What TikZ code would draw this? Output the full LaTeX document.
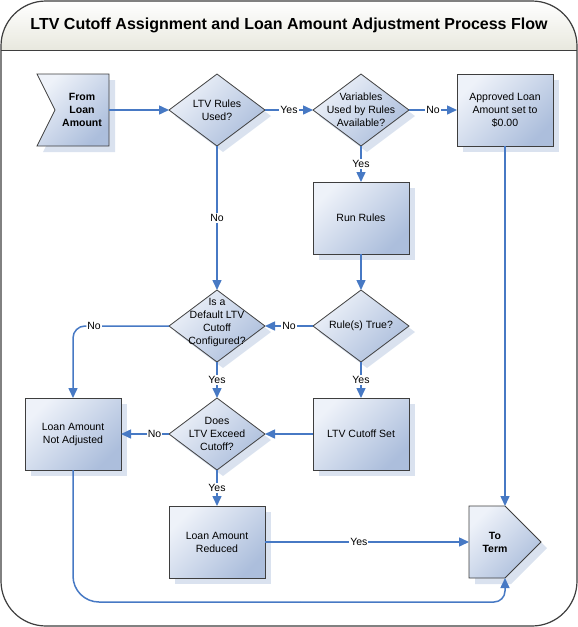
\documentclass[tikz,border=0pt]{standalone}
\usepackage{fontspec}
\setmainfont{Liberation Sans}
\usetikzlibrary{shapes.geometric,arrows.meta,shadows,calc}
\definecolor{connc}{RGB}{71,121,196}
\definecolor{flight}{RGB}{238,242,249}
\definecolor{fdark}{RGB}{172,190,220}
\definecolor{shad}{RGB}{218,226,239}
\definecolor{edgec}{RGB}{62,62,62}
\definecolor{titlebot}{RGB}{232,232,222}
\newcommand\nfont{\fontsize{10.5}{13}\selectfont}
\tikzset{
  shp/.style={draw=edgec, line width=0.8pt, top color=flight, bottom color=fdark, shading angle=45,
    general shadow={fill=shad, shadow xshift=6pt, shadow yshift=-6pt}},
  proc/.style={shp, rectangle, minimum width=96pt, minimum height=72pt, inner sep=2pt, outer sep=0pt, align=center, font=\nfont},
  dec/.style={shp, diamond, minimum width=96pt, minimum height=72pt, inner sep=0pt, outer sep=0pt},
  dtext/.style={align=center, font=\nfont, inner sep=0pt},
  btext/.style={align=center, font=\bfseries\nfont, inner sep=0pt},
  ghost/.style={draw=none, fill=none, minimum width=72pt, minimum height=72pt, inner sep=0pt, outer sep=0pt},
  connline/.style={draw=connc, line width=1.5pt},
  conn/.style={connline, -{Triangle[length=10pt,width=9pt]}},
  lbl/.style={fill=white, inner sep=1pt, font=\nfont, text=black},
}
\begin{document}
\begin{tikzpicture}[x=1pt,y=-1pt]
\useasboundingbox (0,0) rectangle (578,627);
% frame and title bar
\begin{scope}
  \clip[rounded corners=45pt] (1,1) rectangle (577,626);
  \fill[top color=white, bottom color=titlebot] (1,1) rectangle (577,50);
\end{scope}
\draw[edgec, line width=1.2pt, rounded corners=45pt] (1,1) rectangle (577,626);
\draw[edgec, line width=1pt] (1,50) -- (577,50);
\node[font=\bfseries\fontsize{16}{19}\selectfont, inner sep=0pt] (title) at (289,25) {LTV Cutoff Assignment and Loan Amount Adjustment Process Flow};

% off-page connectors (drawn shapes)
\path[shp] (37,74) -- (109,74) -- (109,146) -- (37,146) -- (55,110) -- cycle;
\node[ghost, label={[btext, xshift=9pt]center:{From\\Loan\\Amount}}] (from) at (73,110) {};
\path[shp] (469,506) -- (505,506) -- (541,542) -- (505,578) -- (469,578) -- cycle;
\node[ghost, label={[btext, xshift=-10pt]center:{To\\Term}}] (term) at (505,542) {};

% decisions
\node[dec, label={[dtext]center:{LTV Rules\\Used?}}] (q1) at (217,110) {};
\node[dec, label={[dtext]center:{Variables\\Used by Rules\\Available?}}] (q2) at (361,110) {};
\node[dec, label={[dtext]center:{Rule(s) True?}}] (q3) at (361,326) {};
\node[dec, label={[dtext, yshift=4pt]center:{Is a\\Default LTV\\Cutoff\\Configured?}}] (q4) at (217,326) {};
\node[dec, label={[dtext]center:{Does\\LTV Exceed\\Cutoff?}}] (q5) at (217,434) {};

% processes
\node[proc] (ap) at (505,110) {Approved Loan\\Amount set to\\\$0.00};
\node[proc] (rr) at (361,218) {Run Rules};
\node[proc] (cs) at (361,434) {LTV Cutoff Set};
\node[proc] (na) at (73,434) {Loan Amount\\Not Adjusted};
\node[proc] (red) at (217,542) {Loan Amount\\Reduced};

% connectors
\draw[conn] (from.east) -- (q1.west);
\draw[conn] (q1.east) -- node[lbl]{Yes} (q2.west);
\draw[conn] (q2.east) -- node[lbl]{No} (ap.west);
\draw[conn] (q2.south) -- node[lbl]{Yes} (rr.north);
\draw[conn] (q1.south) -- node[lbl]{No} (q4.north);
\draw[conn] (rr.south) -- (q3.north);
\draw[conn] (q3.west) -- node[lbl]{No} (q4.east);
\draw[conn] (q3.south) -- node[lbl]{Yes} (cs.north);
\draw[conn] (q4.south) -- node[lbl]{Yes} (q5.north);
\draw[conn] (cs.west) -- (q5.east);
\draw[conn] (q5.west) -- node[lbl, pos=0.3]{No} (na.east);
\draw[conn] (q5.south) -- node[lbl]{Yes} (red.north);
\draw[conn] (red.east) -- node[lbl, pos=0.46]{Yes} (term.west);
\draw[conn] (ap.south) -- (term.north);
\draw[conn, rounded corners=12pt] (q4.west) -| node[lbl, pos=0.39]{No} (na.north);
\coordinate (bl) at (73,602);
\coordinate (bm) at (300,602);
\coordinate (br) at (505,602);
\draw[connline, rounded corners=26pt] (na.south) -- (bl) -- (bm);
\draw[conn, rounded corners=11pt] (bm) -- (br) -- (term.south);
\end{tikzpicture}
\end{document}
